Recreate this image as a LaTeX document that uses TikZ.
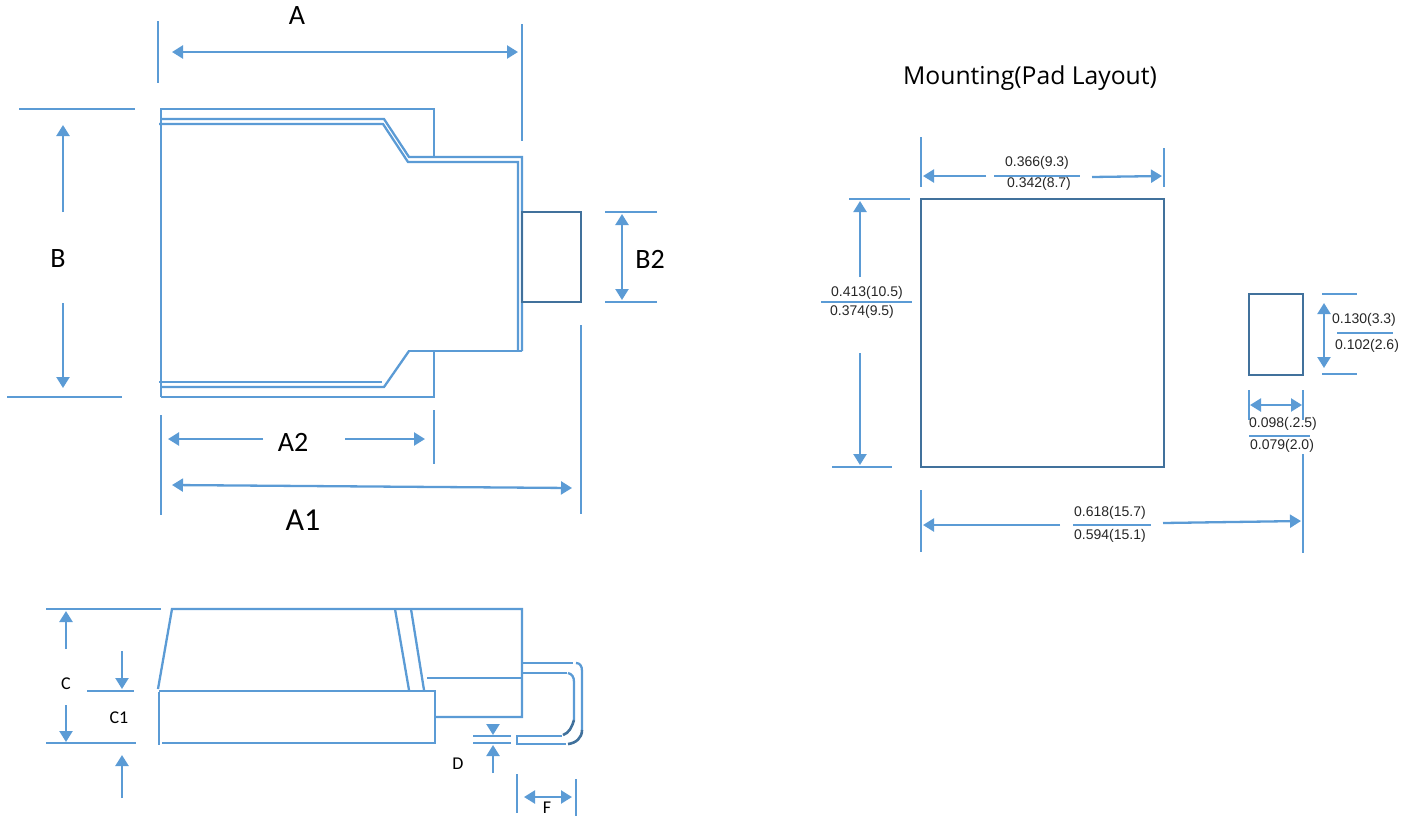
\documentclass[tikz,border=0pt]{standalone}
\usepackage{fontspec}
\setmainfont{Liberation Sans}
\newfontfamily\labelfont{Carlito}
\newfontfamily\titlefont{Open Sans}
\usetikzlibrary{arrows.meta}
\newlength{\du}
\setlength{\du}{0.5pt}
\definecolor{dialineblue}{rgb}{0.357, 0.608, 0.835}
\definecolor{dialinedark}{rgb}{0.255, 0.443, 0.612}
\tikzset{
  outline/.style={draw=dialineblue, line width=2.3\du},
  padline/.style={draw=dialinedark, line width=2.6\du},
  dimarrow/.style={outline, -{Triangle[length=5.5pt,width=6.5pt]}},
  dimboth/.style={outline, {Triangle[length=5.5pt,width=6.5pt]}-{Triangle[length=5.5pt,width=6.5pt]}},
  biglabel/.style={inner sep=0pt, font=\labelfont\fontsize{14}{14}\selectfont},
  smalllabel/.style={inner sep=0pt, font=\labelfont\fontsize{9}{9}\selectfont},
  padlabel/.style={inner sep=0pt, text=black!85, font=\fontsize{7}{7}\selectfont}
}
\begin{document}
\begin{tikzpicture}
\pgftransformxscale{1.000000}
\pgftransformyscale{-1.000000}
\useasboundingbox (0\du,0\du) rectangle (1415\du,816\du);
% top view
\draw[outline] (158\du,21\du)--(158\du,83\du);
\draw[outline] (522\du,24\du)--(522\du,141\du);
\draw[dimboth] (172\du,52\du)--(518\du,52\du);
\node[biglabel] (labelA) at (297\du,16\du){A};
\draw[outline] (19\du,109\du)--(135\du,109\du);
\draw[outline] (7\du,397\du)--(122\du,397\du);
\draw[dimarrow] (63\du,212\du)--(63\du,125\du);
\draw[dimarrow] (63\du,303\du)--(63\du,388\du);
\node[biglabel] (labelB) at (58\du,259\du){B};
\draw[outline] (161\du,397\du)--(161\du,109\du)--(434\du,109\du)--(434\du,157\du);
\draw[outline] (161\du,119\du)--(384\du,119\du)--(409\du,157\du)--(522\du,157\du)--(522\du,351\du);
\draw[outline] (159\du,124\du)--(383\du,124\du)--(408\du,162\du)--(518\du,162\du)--(518\du,351\du);
\draw[outline] (408\du,351\du)--(522\du,351\du);
\draw[outline] (159\du,382\du)--(382\du,382\du);
\draw[outline] (161\du,387\du)--(384\du,387\du)--(409\du,351\du);
\draw[outline] (161\du,397\du)--(434\du,397\du)--(434\du,351\du);
\draw[padline] (522\du,212\du) rectangle (581\du,302\du);
\draw[outline] (605\du,212\du)--(657\du,212\du);
\draw[outline] (605\du,302\du)--(657\du,302\du);
\draw[dimboth] (622\du,214\du)--(622\du,300\du);
\node[biglabel] (labelBtwo) at (650\du,259\du){B2};
\draw[outline] (161\du,415\du)--(161\du,515\du);
\draw[outline] (434\du,410\du)--(434\du,464\du);
\draw[dimarrow] (263\du,439\du)--(168\du,439\du);
\draw[dimarrow] (345\du,439\du)--(425\du,439\du);
\node[biglabel] (labelAtwo) at (293\du,442\du){A2};
\draw[dimboth] (172\du,485\du)--(572\du,488\du);
\draw[outline] (581\du,325\du)--(581\du,514\du);
\node[biglabel, font=\labelfont\fontsize{16}{16}\selectfont] (labelAone) at (303\du,520\du){A1};
% side view
\draw[outline] (46\du,609\du)--(161\du,609\du);
\draw[outline] (46\du,743\du)--(136\du,743\du);
\draw[outline] (87\du,691\du)--(134\du,691\du);
\draw[dimarrow] (66\du,649\du)--(66\du,611\du);
\draw[dimarrow] (66\du,705\du)--(66\du,742\du);
\node[smalllabel] (labelC) at (66\du,684\du){C};
\draw[dimarrow] (122\du,651\du)--(122\du,689\du);
\draw[dimarrow] (122\du,798\du)--(122\du,755\du);
\node[smalllabel] (labelCone) at (119\du,718\du){C1};
\draw[outline] (158\du,689\du)--(172\du,609\du)--(522\du,609\du)--(522\du,717\du)--(435\du,717\du);
\draw[outline] (159\du,691\du)--(435\du,691\du)--(435\du,743\du)--(162\du,743\du);
\draw[outline] (159\du,692\du)--(159\du,745\du);
\draw[outline] (395\du,609\du)--(409\du,690\du);
\draw[outline] (411\du,609\du)--(424\du,690\du);
\draw[outline] (427\du,678\du)--(522\du,678\du);
\draw[outline] (522\du,663\du)--(573\du,663\du);
\draw[outline] (576\du,663\du) .. controls (580\du,663\du) and (582\du,666\du) .. (582\du,671\du)--(582\du,730\du);
\draw[padline] (582\du,730\du) .. controls (582\du,738\du) and (576\du,743\du) .. (568\du,744\du);
\draw[outline] (566\du,744\du)--(517\du,744\du)--(517\du,736\du)--(562\du,736\du);
\draw[outline] (522\du,673\du)--(567\du,673\du);
\draw[outline] (568\du,673\du) .. controls (572\du,674\du) and (574\du,677\du) .. (574\du,682\du)--(574\du,720\du);
\draw[padline] (574\du,720\du) .. controls (572\du,727\du) and (569\du,733\du) .. (563\du,735\du);
\draw[outline] (473\du,736\du)--(511\du,736\du);
\draw[outline] (473\du,743\du)--(511\du,743\du);
\draw[dimarrow] (493\du,725\du)--(493\du,735\du);
\draw[dimarrow] (493\du,773\du)--(493\du,745\du);
\node[smalllabel] (labelD) at (458\du,764\du){D};
\draw[outline] (517\du,774\du)--(517\du,813\du);
\draw[outline] (576\du,779\du)--(576\du,816\du);
\draw[dimboth] (524\du,797\du)--(572\du,797\du);
\node[smalllabel] (labelF) at (547\du,808\du){F};
% pad layout
\node[inner sep=0pt, font=\titlefont\fontsize{12.35}{12.35}\selectfont] (padtitle) at (1030\du,78\du){Mounting(Pad Layout)};
\draw[padline] (921\du,199\du) rectangle (1164\du,467\du);
\draw[outline] (921\du,137\du)--(921\du,187\du);
\draw[outline] (1164\du,148\du)--(1164\du,187\du);
\draw[dimarrow] (986\du,176\du)--(923\du,176\du);
\draw[dimarrow] (1092\du,177\du)--(1162\du,176\du);
\draw[outline] (994\du,176\du)--(1080\du,176\du);
\node[padlabel] (padwidthmax) at (1037\du,163\du){0.366(9.3)};
\node[padlabel] (padwidthmin) at (1039\du,184\du){0.342(8.7)};
\draw[outline] (849\du,199\du)--(910\du,199\du);
\draw[outline] (832\du,467\du)--(892\du,467\du);
\draw[dimarrow] (860\du,277\du)--(860\du,201\du);
\draw[dimarrow] (860\du,353\du)--(860\du,465\du);
\draw[outline] (821\du,302\du)--(912\du,302\du);
\node[padlabel] (padheightmax) at (867\du,293\du){0.413(10.5)};
\node[padlabel] (padheightmin) at (862\du,312\du){0.374(9.5)};
\draw[padline] (1249\du,294\du) rectangle (1303\du,375\du);
\draw[outline] (1322\du,294\du)--(1357\du,294\du);
\draw[outline] (1322\du,374\du)--(1357\du,374\du);
\draw[dimboth] (1324\du,303\du)--(1324\du,368\du);
\draw[outline] (1337\du,333\du)--(1393\du,333\du);
\node[padlabel] (tabheightmax) at (1364\du,320\du){0.130(3.3)};
\node[padlabel] (tabheightmin) at (1367\du,346\du){0.102(2.6)};
\draw[outline] (1249\du,390\du)--(1249\du,420\du);
\draw[outline] (1303\du,390\du)--(1303\du,420\du);
\draw[dimboth] (1250\du,405\du)--(1302\du,405\du);
\draw[outline] (1249\du,436\du)--(1310\du,436\du);
\node[padlabel] (tabwidthmax) at (1283\du,424\du){0.098(.2.5)};
\node[padlabel] (tabwidthmin) at (1282\du,446\du){0.079(2.0)};
\draw[outline] (1303\du,454\du)--(1303\du,553\du);
\draw[outline] (921\du,490\du)--(921\du,552\du);
\draw[dimarrow] (1060\du,525\du)--(923\du,525\du);
\draw[dimarrow] (1163\du,523\du)--(1301\du,521\du);
\draw[outline] (1073\du,525\du)--(1151\du,525\du);
\node[padlabel] (spanmax) at (1110\du,513\du){0.618(15.7)};
\node[padlabel] (spanmin) at (1110\du,536\du){0.594(15.1)};
\end{tikzpicture}
\end{document}
